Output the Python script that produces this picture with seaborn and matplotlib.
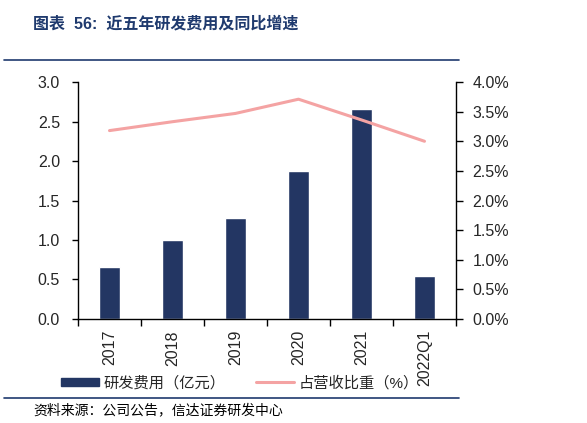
import numpy as np
import pandas as pd
import matplotlib
matplotlib.use("Agg")
import matplotlib.pyplot as plt
import seaborn as sns
from matplotlib.ticker import PercentFormatter
from matplotlib.lines import Line2D
from matplotlib.patches import Patch

# Data
years = ["2017", "2018", "2019", "2020", "2021", "2022Q1"]
rd_cost = [0.66, 1.00, 1.28, 1.87, 2.66, 0.54]      # 亿元
rd_ratio = [3.18, 3.33, 3.47, 3.71, 3.36, 3.00]     # %

bar_color = "#233663"
line_color = "#F4A3A3"
navy = "#1F3A6E"

sns.set_theme(style="white")
plt.rcParams["font.family"] = ["Liberation Sans", "Noto Sans CJK SC", "DejaVu Sans"]

df = pd.DataFrame({"year": years, "cost": rd_cost, "ratio": rd_ratio})

fig = plt.figure(figsize=(5.87, 4.23), dpi=100)
ax = fig.add_axes([0.1329, 0.2459, 0.6439, 0.5602])

sns.barplot(data=df, x="year", y="cost", color=bar_color, width=0.32,
            saturation=1, ax=ax)

ax2 = ax.twinx()
sns.lineplot(x=np.arange(len(years)), y=df["ratio"], color=line_color,
             linewidth=2.2, ax=ax2)

ax.set_ylim(0, 3.0)
ax.set_yticks(np.arange(0, 3.01, 0.5))
ax.set_yticklabels([f"{v:.1f}" for v in np.arange(0, 3.01, 0.5)])
ax2.set_ylim(0, 4.0)
ax2.set_yticks(np.arange(0, 4.01, 0.5))
ax2.yaxis.set_major_formatter(PercentFormatter(decimals=1))
ax.set_xlim(-0.5, len(years) - 0.5)

ax.set_xlabel("")
ax.set_ylabel("")
ax2.set_ylabel("")

for a in (ax, ax2):
    a.grid(False)
    a.spines["top"].set_visible(False)
    for s in ("left", "right", "bottom"):
        a.spines[s].set_color("black")
        a.spines[s].set_linewidth(1.0)
ax2.spines["left"].set_visible(False)
ax2.spines["bottom"].set_visible(False)
ax.spines["right"].set_visible(False)

ax.tick_params(axis="y", direction="out", length=4, width=1, color="black",
               labelsize=11.5, pad=9, left=True)
ax2.tick_params(axis="y", direction="out", length=5, width=1, color="black",
                labelsize=11.5, pad=7, right=True)

# category boundary ticks on x axis
ax.set_xticks(np.arange(len(years)))
ax.set_xticklabels(years, rotation=90, fontsize=11.5, va="top")
ax.tick_params(axis="x", length=0, pad=8)
ax.set_xticks(np.arange(-0.5, len(years)), minor=True)
ax.tick_params(axis="x", which="minor", direction="out", length=5, width=1,
               color="black", bottom=True)

# legend
handles = [Patch(facecolor=bar_color, edgecolor=bar_color),
           Line2D([0], [0], color=line_color, linewidth=2.2)]
labels = ["研发费用（亿元）", "占营收比重（%）"]
fig.legend(handles, labels, loc="center left", bbox_to_anchor=(0.104, 0.095),
           ncol=2, frameon=False, fontsize=11, handlelength=2.5,
           handleheight=0.47, columnspacing=2.0, handletextpad=0.27,
           borderpad=0, borderaxespad=0)

# title and rules
fig.text(0.056, 0.943, "图表  56:  近五年研发费用及同比增速", fontsize=11.5,
         fontweight="bold", color=navy, va="center", ha="left")
fig.add_artist(Line2D([0.007, 0.782], [0.858, 0.858], color=navy,
                      linewidth=1.2, transform=fig.transFigure))
fig.add_artist(Line2D([0.007, 0.782], [0.059, 0.059], color=navy,
                      linewidth=1.2, transform=fig.transFigure))
fig.text(0.056, 0.031, "资料来源：公司公告，信达证券研发中心", fontsize=10,
         style="italic", color="black", va="center", ha="left")

fig.savefig("out.png", dpi=100)
